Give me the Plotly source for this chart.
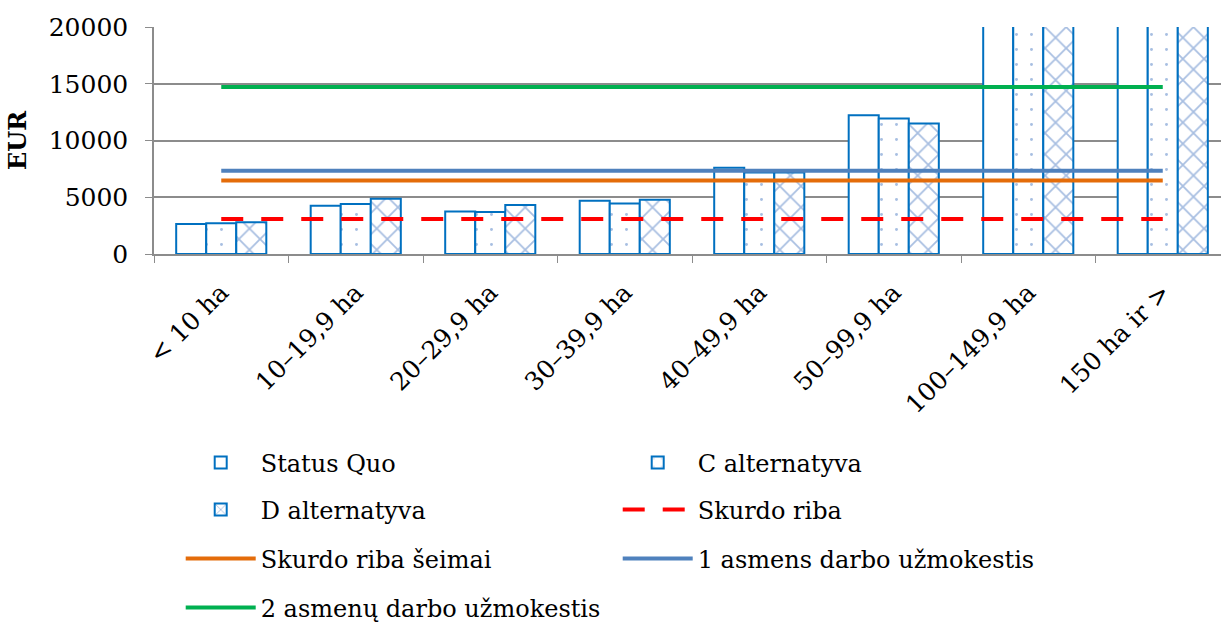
import plotly.graph_objects as go

# Farm size groups (x axis)
categories = ["< 10 ha", "10–19,9 ha", "20–29,9 ha", "30–39,9 ha",
              "40–49,9 ha", "50–99,9 ha", "100–149,9 ha", "150 ha ir >"]

# Income per farm, EUR
status_quo = [2640, 4250, 3750, 4690, 7590, 12220, 26000, 52000]
c_alt = [2700, 4400, 3690, 4460, 7180, 11930, 25500, 51000]
d_alt = [2790, 4870, 4310, 4780, 7180, 11490, 25000, 50000]

# Reference thresholds, EUR
skurdo_riba = 3080
skurdo_riba_seimai = 6480
vieno_asmens = 7330
dvieju_asmenu = 14710

FONT = "'DejaVu Serif', serif"
BAR_EDGE = "rgb(0,112,192)"
PAT = "rgb(80,125,195)"
GRID = "#8c8c8c"

fig = go.Figure()

fig.add_trace(go.Bar(
    name="Status Quo", x=categories, y=status_quo, legend="legend",
    marker=dict(color="white", line=dict(color=BAR_EDGE, width=2)),
))
fig.add_trace(go.Bar(
    name="C alternatyva", x=categories, y=c_alt, legend="legend",
    marker=dict(color="white", line=dict(color=BAR_EDGE, width=2),
                pattern=dict(shape=".", fgcolor=PAT, bgcolor="white",
                             size=15, solidity=0.03)),
))
fig.add_trace(go.Bar(
    name="D alternatyva", x=categories, y=d_alt, legend="legend2",
    marker=dict(color="white", line=dict(color=BAR_EDGE, width=2),
                pattern=dict(shape="x", fgcolor=PAT, bgcolor="white",
                             size=15, solidity=0.22)),
))

n = len(categories)
fig.add_trace(go.Scatter(
    name="Skurdo riba", x=categories, y=[skurdo_riba] * n, mode="lines",
    legend="legend2", line=dict(color="#ff0000", width=4, dash="22px,18px"),
))
fig.add_trace(go.Scatter(
    name="Skurdo riba šeimai", x=categories, y=[skurdo_riba_seimai] * n,
    mode="lines", legend="legend3", line=dict(color="#e46c0a", width=4),
))
fig.add_trace(go.Scatter(
    name="1 asmens darbo užmokestis", x=categories, y=[vieno_asmens] * n,
    mode="lines", legend="legend3", line=dict(color="#4f81bd", width=4),
))
fig.add_trace(go.Scatter(
    name="2 asmenų darbo užmokestis", x=categories, y=[dvieju_asmenu] * n,
    mode="lines", legend="legend4", line=dict(color="#00b050", width=4),
))

H = 624
rows = [463, 510, 559, 608]
leg = dict(orientation="h", xref="container", yref="container",
           x=0.148, xanchor="left", yanchor="middle",
           entrywidth=352, itemwidth=70,
           font=dict(family=FONT, size=24, color="black"),
           bgcolor="rgba(0,0,0,0)")

fig.update_layout(
    width=1221, height=624,
    margin=dict(l=154, r=0, t=27, b=370),
    paper_bgcolor="white", plot_bgcolor="white",
    barmode="group", bargap=0.33, bargroupgap=0,
    font=dict(family=FONT, size=24, color="black"),
    legend=dict(leg, y=1 - rows[0] / H),
    legend2=dict(leg, y=1 - rows[1] / H),
    legend3=dict(leg, y=1 - rows[2] / H),
    legend4=dict(leg, y=1 - rows[3] / H),
    xaxis=dict(
        range=[-0.5, 7.433], tickson="boundaries", ticks="outside",
        ticklen=7, tickcolor=GRID, showline=True, linecolor=GRID,
        linewidth=1.5, tickangle=-45, showgrid=False,
        tickfont=dict(family=FONT, size=25), ticklabelstandoff=12,
    ),
    yaxis=dict(
        range=[0, 20000], dtick=5000, tickformat="d", ticks="outside",
        ticklen=7, tickcolor=GRID, showline=True, linecolor=GRID,
        linewidth=1.5, showgrid=True, gridcolor=GRID, gridwidth=1.5,
        zeroline=False, tickfont=dict(family=FONT, size=25),
        ticklabelstandoff=12,
        title=dict(text="<b>EUR</b>", font=dict(family=FONT, size=24),
                   standoff=15),
    ),
)

fig.write_html("out.html")
